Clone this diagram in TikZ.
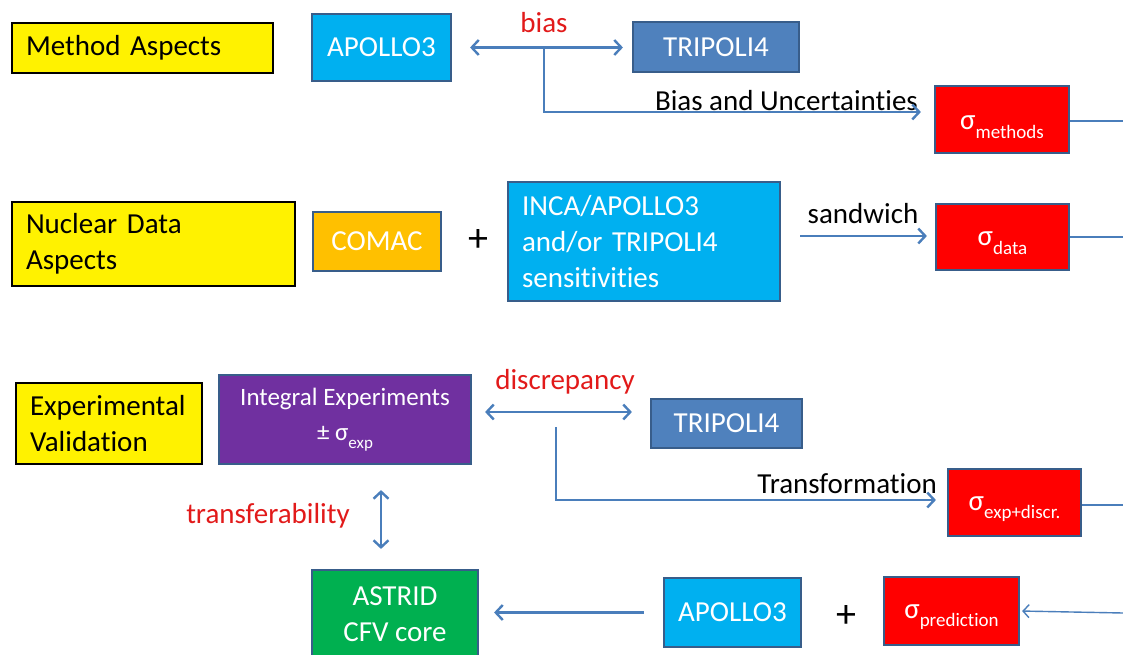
\documentclass[tikz,border=0pt]{standalone}
\usepackage{fontspec}
\setmainfont{Carlito}[Ligatures=NoCommon]
\usetikzlibrary{arrows.meta,calc}
\definecolor{cyanbox}{HTML}{00B0F0}
\definecolor{bluebox}{HTML}{4F81BD}
\definecolor{orangebox}{HTML}{FFC000}
\definecolor{purplebox}{HTML}{7030A0}
\definecolor{greenbox}{HTML}{00B050}
\definecolor{redbox}{HTML}{FF0000}
\definecolor{borderblue}{HTML}{385D8A}
\definecolor{arrowblue}{HTML}{4A7EBB}
\definecolor{redtext}{HTML}{E21A1A}
\newcommand\sigsub[2][19]{σ\raisebox{-0.3em}{\fontsize{#1}{#1}\selectfont #2}}
\tikzset{
  big/.style={font=\fontsize{29}{36}\selectfont},
  ybox/.style={draw=black, line width=2pt, fill=yellow, big, align=left, inner xsep=14pt, inner ysep=0pt, text=black},
  cbox/.style={draw=borderblue, line width=2.2pt, big, text=white, align=center, inner sep=0pt},
  conn/.style={draw=arrowblue, line width=2.4pt},
  tip/.style={-{Straight Barb[length=7pt,width=15pt,line width=2.4pt]}},
  dtip/.style={{Straight Barb[length=7pt,width=15pt,line width=2.4pt]}-{Straight Barb[length=7pt,width=15pt,line width=2.4pt]}},
  lbl/.style={big, text=black, inner sep=0pt},
  rlbl/.style={big, text=redtext, inner sep=0pt},
  plus/.style={font=\fontsize{40}{40}\selectfont, text=black, inner sep=0pt},
}
\begin{document}
\begin{tikzpicture}[x=1pt,y=-1pt]
\clip (0,0) rectangle (1123,655);
\fill[white] (0,0) rectangle (1123,655);

% Row 1
\node[ybox, text width=233pt, minimum height=50pt] (methods) at (142.5,48) {Method Aspects};
\node[cbox, fill=cyanbox, minimum width=139pt, minimum height=67pt] (apolloA) at (381.5,47.5) {APOLLO3};
\node[cbox, fill=bluebox, minimum width=166pt, minimum height=50pt] (tripA) at (716,47) {TRIPOLI4};
\node[cbox, fill=redbox, minimum width=134pt, minimum height=67pt] (sigM) at (1002,119.5) {};
\node[text=white, big, inner sep=0pt] (sigMt) at (1002,127) {\sigsub{methods}};
\node[rlbl] (bias) at (544,23) {bias};
\node[lbl, anchor=east] (biasunc) at (918,101) {Bias and Uncertainties};
\coordinate (bA) at (544,47.5);
\coordinate (eM) at (1123,121);

\draw[conn, dtip, shorten <=18pt, shorten >=9pt] (apolloA.east) -- (apolloA.east -| tripA.west);
\draw[conn, tip, shorten >=13pt] (bA) |- ([yshift=7.5pt]sigM.west);
\draw[conn] (sigM.east |- eM) -- (eM);

% Row 2
\node[ybox, text width=255pt, minimum height=84pt] (nuclear) at (153.5,244) {Nuclear Data\\Aspects};
\node[cbox, fill=orangebox, minimum width=128pt, minimum height=59pt] (comac) at (377,241.5) {COMAC};
\node[plus] (plus1) at (478,241) {+};
\node[cbox, fill=cyanbox, text width=244pt, align=left, inner xsep=14pt, minimum height=119pt] (inca) at (644,241.5) {INCA/APOLLO3\\and/or TRIPOLI4\\sensitivities};
\node[cbox, fill=redbox, minimum width=133pt, minimum height=66pt] (sigD) at (1002.5,237) {};
\node[text=white, big, inner sep=0pt] (sigDt) at (1002.5,243) {\sigsub{data}};
\node[lbl] (sandwich) at (863,214) {sandwich};
\coordinate (eD) at (1123,237);

\draw[conn, tip, shorten <=19pt, shorten >=8pt] ([yshift=5.5pt]inca.east) -- ([yshift=5.5pt]inca.east -| sigD.west);
\draw[conn] (sigD.east) -- (eD);

% Row 3
\node[ybox, text width=158pt, minimum height=81pt] (expval) at (109,423.5) {Experimental\\Validation};
\node[cbox, fill=purplebox, minimum width=252pt, minimum height=89pt, font=\fontsize{25}{35}\selectfont] (integ) at (345,419.5) {Integral Experiments\\± \sigsub[17]{exp}};
\node[cbox, fill=bluebox, minimum width=151pt, minimum height=49pt] (tripB) at (726.5,423.5) {TRIPOLI4};
\node[cbox, fill=redbox, minimum width=133pt, minimum height=67pt] (sigE) at (1014.5,502.5) {};
\node[text=white, big, inner sep=0pt] (sigEt) at (1014.5,509) {\sigsub{exp+discr.}};
\node[rlbl] (discrep) at (565,382) {discrepancy};
\node[lbl, anchor=east] (transf) at (937,484) {Transformation};
\node[rlbl] (transfer) at (268,516) {transferability};
\coordinate (bB) at (556,427);
\coordinate (eE) at (1123,505);

\draw[conn, dtip, shorten <=13pt, shorten >=18pt] ([yshift=7.5pt]integ.east) -- ([yshift=7.5pt]integ.east -| tripB.west);
\draw[conn, tip, shorten >=11pt] (bB) |- ([yshift=2.5pt]sigE.west);
\draw[conn] (sigE.east |- eE) -- (eE);

% Row 4
\node[cbox, fill=greenbox, minimum width=166pt, minimum height=90pt] (astrid) at (395,615) {};
\node[text=white, big, inner sep=0pt, align=center] (astridt) at (395,614) {ASTRID\\CFV core};
\node[cbox, fill=cyanbox, minimum width=137pt, minimum height=69pt] (apolloB) at (732.5,612.5) {APOLLO3};
\node[plus] (plus2) at (846,616) {+};
\node[cbox, fill=redbox, minimum width=135pt, minimum height=68pt] (sigP) at (951.5,611) {};
\node[text=white, big, inner sep=0pt] (sigPt) at (951.5,617) {\sigsub{prediction}};
\coordinate (eP) at (1123,613);

\draw[conn, dtip, shorten <=25pt, shorten >=20pt] ([xshift=36pt]integ.south) -- ([xshift=-14pt]astrid.north);
\draw[conn, tip, shorten <=19pt, shorten >=15pt] (apolloB.west) -- (apolloB.west -| astrid.east);
\draw[conn, line width=1.4pt, -{Straight Barb[length=6pt,width=13pt,line width=1.4pt]}, shorten >=2pt] (eP) -- (sigP.east);
\end{tikzpicture}
\end{document}
